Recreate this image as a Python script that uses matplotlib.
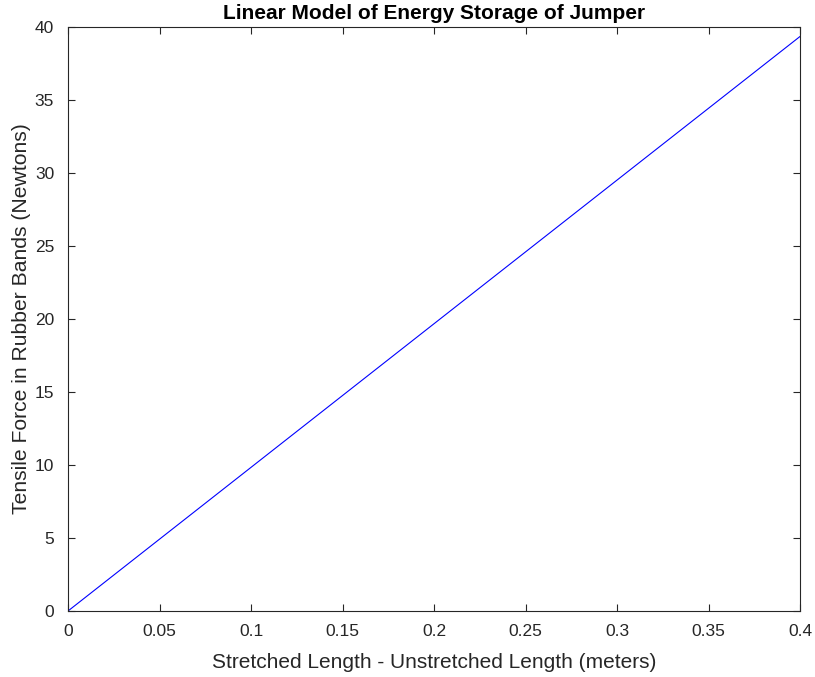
import numpy as np
import matplotlib
matplotlib.use('Agg')
import matplotlib.pyplot as plt

plt.rcParams['font.family'] = ['Liberation Sans', 'DejaVu Sans']

# stretch (m) and force (N), linear model F = k*x
stretch = [0.0, 0.4]
force = [0.0, 39.35]
xticks = [0, 0.05, 0.1, 0.15, 0.2, 0.25, 0.3, 0.35, 0.4]
xticklabels = ['0', '0.05', '0.1', '0.15', '0.2', '0.25', '0.3', '0.35', '0.4']
yticks = [0, 5, 10, 15, 20, 25, 30, 35, 40]

grey = (0.15, 0.15, 0.15)

fig = plt.figure(figsize=(8.15, 6.77), dpi=100)
ax = fig.add_axes([68/815, 66/677, 732/815, 584/677])

ax.plot(stretch, force, color=(0, 0, 1), linewidth=0.8)

ax.set_xlim(0, 0.4)
ax.set_ylim(0, 40)
ax.set_xticks(xticks)
ax.set_xticklabels(xticklabels)
ax.set_yticks(yticks)
ax.tick_params(direction='in', top=True, right=True, length=5, width=0.8,
               colors=grey, labelsize=12.5)
ax.tick_params(axis='x', pad=9.5)
ax.tick_params(axis='y', pad=10)
for s in ax.spines.values():
    s.set_color(grey)
    s.set_linewidth(0.8)

ax.set_xlabel('Stretched Length - Unstretched Length (meters)', fontsize=15, color=grey, labelpad=10)
ax.set_ylabel('Tensile Force in Rubber Bands (Newtons)', fontsize=15.2, color=grey, labelpad=2.5)
ax.set_title('Linear Model of Energy Storage of Jumper', fontsize=15, fontweight='bold', pad=6)

fig.savefig('out.png', dpi=100)
